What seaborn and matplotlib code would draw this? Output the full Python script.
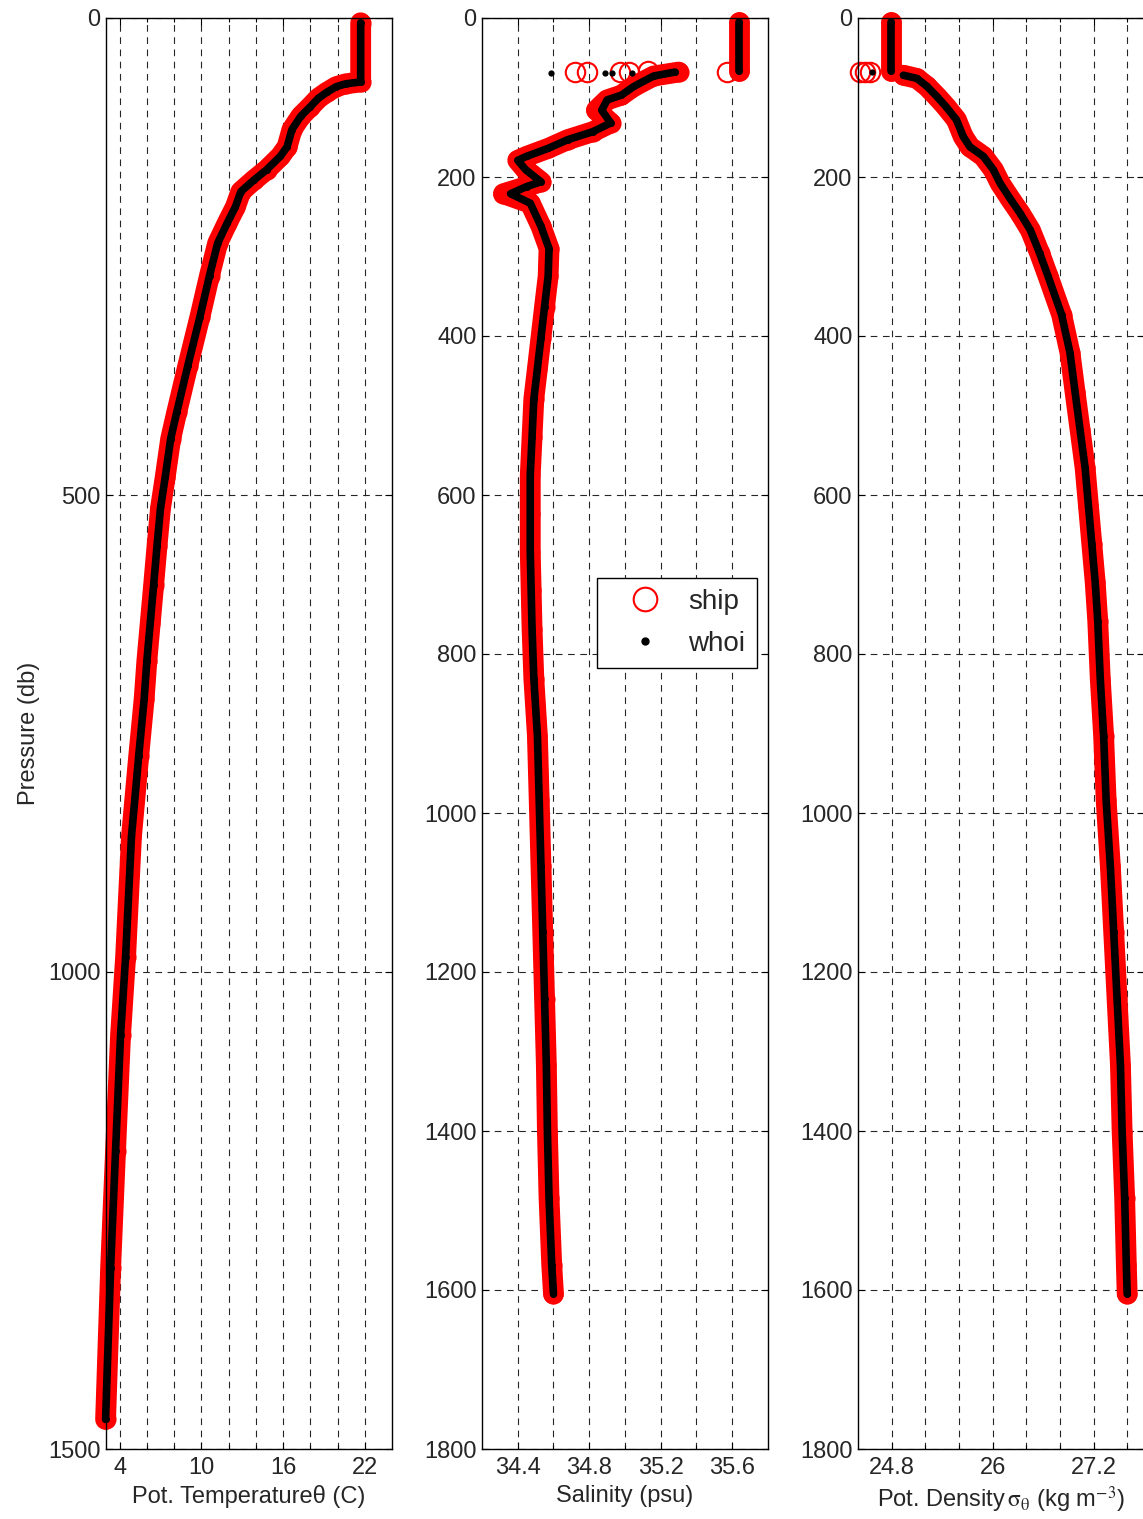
import matplotlib
matplotlib.use("Agg")
import matplotlib.pyplot as plt
from matplotlib.lines import Line2D
from matplotlib.ticker import FixedLocator, FormatStrFormatter
import seaborn as sns

# ----------------------------------------------------------------------------
# data (pressure in db)
# ----------------------------------------------------------------------------
# potential temperature profile
temp_pres = [5, 67, 69, 72, 78, 84, 93, 103, 117, 135, 145, 159, 170, 182, 198, 215,
             236, 270, 313, 365, 413, 441, 481, 514, 553, 594, 634, 674, 714, 774,
             858, 984, 1066, 1188, 1310, 1469]
temp_ship = [21.7, 21.7, 20.6, 19.9, 19.2, 18.6, 18.0, 17.3, 16.65, 16.3, 15.8, 14.8,
             13.85, 12.9, 12.5, 11.9, 11.2, 10.6, 9.9, 9.0, 8.2, 7.75, 7.35, 7.0, 6.75,
             6.5, 6.25, 6.0, 5.8, 5.4, 4.87, 4.44, 4.07, 3.7, 3.34, 2.97]
temp_whoi = [21.7, 21.7, 20.6, 19.9, 19.2, 18.6, 18.0, 17.3, 16.65, 16.3, 15.8, 14.8,
             13.85, 12.9, 12.5, 11.9, 11.2, 10.6, 9.9, 9.0, 8.2, 7.75, 7.35, 7.0, 6.75,
             6.5, 6.25, 6.0, 5.8, 5.4, 4.87, 4.44, 4.07, 3.7, 3.34, 2.97]

# salinity: mixed layer, main profile and the bad scan near 68 db
sal_surf_pres = [5, 67]
sal_surf = [35.64, 35.64]
sal_pres = [68, 73, 86, 97, 103, 116, 132, 143, 153, 164, 174, 179, 191, 206, 212, 221,
            233, 262, 290, 325, 363, 402, 441, 479, 527, 575, 624, 672, 720, 768, 831,
            903, 984, 1067, 1150, 1234, 1317, 1401, 1484, 1568, 1605]
sal_ship = [35.30, 35.16, 35.05, 34.98, 34.90, 34.84, 34.92, 34.82, 34.68, 34.57, 34.45,
            34.40, 34.445, 34.53, 34.45, 34.32, 34.47, 34.53, 34.575, 34.57, 34.55, 34.53,
            34.51, 34.49, 34.48, 34.47, 34.47, 34.47, 34.475, 34.48, 34.49, 34.51, 34.52,
            34.53, 34.54, 34.55, 34.56, 34.566, 34.575, 34.59, 34.60]
sal_whoi = [35.28, 35.16, 35.05, 34.98, 34.90, 34.87, 34.92, 34.82, 34.68, 34.57, 34.45,
            34.40, 34.445, 34.53, 34.45, 34.36, 34.47, 34.53, 34.575, 34.57, 34.55, 34.53,
            34.51, 34.49, 34.48, 34.47, 34.47, 34.47, 34.475, 34.48, 34.49, 34.51, 34.52,
            34.53, 34.54, 34.55, 34.56, 34.566, 34.575, 34.59, 34.60]
sal_spike_ship = [34.72, 34.79, 34.97, 35.02, 35.13, 35.57]
sal_spike_ship_pres = [68, 68, 68, 68, 67, 68]
sal_spike_whoi = [34.585, 34.89, 34.93, 35.04]
sal_spike_whoi_pres = [69, 69, 69, 69]

# potential density
dens_surf_pres = [5, 67]
dens_surf = [24.79, 24.79]
dens_pres = [72, 76, 86, 99, 112, 128, 149, 162, 174, 191, 208, 229, 246, 267, 296, 325,
             373, 421, 470, 518, 566, 614, 662, 710, 758, 831, 903, 984, 1067, 1150, 1234,
             1317, 1401, 1484, 1568, 1605]
dens_ship = [24.94, 25.10, 25.22, 25.34, 25.45, 25.57, 25.65, 25.73, 25.89, 26.01, 26.09,
             26.22, 26.33, 26.45, 26.56, 26.66, 26.82, 26.92, 26.98, 27.04, 27.10, 27.14,
             27.18, 27.22, 27.25, 27.28, 27.32, 27.35, 27.40, 27.44, 27.48, 27.52, 27.54,
             27.57, 27.59, 27.60]
dens_whoi = list(dens_ship)
dens_spike_ship = [24.42, 24.48, 24.54]
dens_spike_ship_pres = [68, 68, 68]
dens_spike_whoi = [24.57]
dens_spike_whoi_pres = [68]

# ticks
temp_major = [4, 10, 16, 22]
temp_minor = [4, 6, 8, 10, 12, 14, 16, 18, 20, 22]
sal_major = [34.4, 34.8, 35.2, 35.6]
sal_minor = [34.4, 34.6, 34.8, 35.0, 35.2, 35.4, 35.6]
dens_major = [24.8, 26, 27.2]
dens_minor = [24.8, 25.2, 25.6, 26.0, 26.4, 26.8, 27.2, 27.6]
pres_ticks_temp = [0, 500, 1000, 1500]
pres_ticks = [0, 200, 400, 600, 800, 1000, 1200, 1400, 1600, 1800]

# ----------------------------------------------------------------------------
# style
# ----------------------------------------------------------------------------
sns.set_style("ticks")
plt.rcParams['font.family'] = ['Liberation Sans', 'DejaVu Sans']
plt.rcParams['mathtext.fontset'] = 'stix'

FS = 17
W, H = 1143, 1519
fig = plt.figure(figsize=(W / 100, H / 100), dpi=100)


def px_axes(left, top, right, bottom):
    return fig.add_axes([left / W, 1 - bottom / H, (right - left) / W, (bottom - top) / H])


ship_kw = dict(color='red', linewidth=15, solid_capstyle='round', solid_joinstyle='round',
               marker='o', markersize=13, markerfacecolor='none', markeredgecolor='red',
               markeredgewidth=1.5)
whoi_kw = dict(color='black', linewidth=5.5, solid_capstyle='round', solid_joinstyle='round',
               marker='o', markersize=5, markerfacecolor='black', markeredgecolor='black',
               markeredgewidth=0)
ship_pt_kw = dict(linestyle='none', marker='o', markersize=14, markerfacecolor='none',
                  markeredgecolor='red', markeredgewidth=1.5, color='red')
whoi_pt_kw = dict(linestyle='none', marker='o', markersize=4.5, markerfacecolor='black',
                  markeredgecolor='black', markeredgewidth=0, color='black')


def draw(ax, pres, vals, kw):
    sns.lineplot(x=vals, y=pres, sort=False, estimator=None, ax=ax, legend=False,
                 clip_on=False, **kw)


def style_axis(ax, xlim, ylim, xmajor, xminor, yticks):
    ax.set_xlim(xlim)
    ax.set_ylim(ylim)
    ax.xaxis.set_major_locator(FixedLocator(xmajor))
    ax.xaxis.set_minor_locator(FixedLocator(xminor))
    ax.yaxis.set_major_locator(FixedLocator(yticks))
    ax.xaxis.set_major_formatter(FormatStrFormatter('%g'))
    ax.yaxis.set_major_formatter(FormatStrFormatter('%g'))
    grid_kw = dict(color='0.15', linestyle=(0, (6, 5)), linewidth=0.8)
    ax.grid(True, which='both', axis='x', **grid_kw)
    ax.grid(True, which='major', axis='y', **grid_kw)
    ax.set_axisbelow(True)
    ax.tick_params(which='both', direction='in', top=True, right=True, labelsize=FS,
                   color='black', width=0.8)
    ax.tick_params(which='major', length=5)
    ax.tick_params(which='minor', length=3)
    ax.tick_params(axis='x', pad=6)
    ax.tick_params(axis='y', pad=4)
    for sp in ax.spines.values():
        sp.set_linewidth(1.0)
        sp.set_color('black')


ax1 = px_axes(106, 18, 392, 1449)
ax2 = px_axes(482, 18, 768, 1449)
ax3 = px_axes(858, 18, 1144, 1449)

# temperature
draw(ax1, temp_pres, temp_ship, ship_kw)
draw(ax1, temp_pres, temp_whoi, whoi_kw)
style_axis(ax1, (3, 24), (1500, 0), temp_major, temp_minor, pres_ticks_temp)
ax1.set_xlabel('Pot. Temperatureθ (C)', fontsize=FS)
ax1.set_ylabel('Pressure (db)', fontsize=FS, labelpad=6)

# salinity
draw(ax2, sal_surf_pres, sal_surf, ship_kw)
draw(ax2, sal_pres, sal_ship, ship_kw)
draw(ax2, sal_spike_ship_pres, sal_spike_ship, ship_pt_kw)
draw(ax2, sal_surf_pres, sal_surf, whoi_kw)
draw(ax2, sal_pres, sal_whoi, whoi_kw)
draw(ax2, sal_spike_whoi_pres, sal_spike_whoi, whoi_pt_kw)
style_axis(ax2, (34.2, 35.8), (1800, 0), sal_major, sal_minor, pres_ticks)
ax2.set_xlabel('Salinity (psu)', fontsize=FS)
ax2.set_ylabel('')

# density
draw(ax3, dens_surf_pres, dens_surf, ship_kw)
draw(ax3, dens_pres, dens_ship, ship_kw)
draw(ax3, dens_spike_ship_pres, dens_spike_ship, ship_pt_kw)
draw(ax3, dens_surf_pres, dens_surf, whoi_kw)
draw(ax3, dens_pres, dens_whoi, whoi_kw)
draw(ax3, dens_spike_whoi_pres, dens_spike_whoi, whoi_pt_kw)
style_axis(ax3, (24.4, 27.8), (1800, 0), dens_major, dens_minor, pres_ticks)
ax3.set_xlabel(r'Pot. Density$\,\mathrm{\sigma_\theta}$ (kg m$^{-3}$)', fontsize=FS)
ax3.set_ylabel('')

# legend
handles = [Line2D([], [], linestyle='none', marker='o', markersize=17, markerfacecolor='none',
                  markeredgecolor='red', markeredgewidth=1.5),
           Line2D([], [], linestyle='none', marker='o', markersize=5, color='black')]
leg = ax2.legend(handles, ['ship', 'whoi'], loc='upper left', bbox_to_anchor=(0.402, 0.609),
                 fontsize=20, frameon=True, fancybox=False, edgecolor='black', framealpha=1,
                 borderaxespad=0, borderpad=0.41, handlelength=2.63, handletextpad=0.25,
                 labelspacing=0.58)
leg.get_frame().set_linewidth(1.0)

plt.savefig('out.png', dpi=100)
plt.close()
